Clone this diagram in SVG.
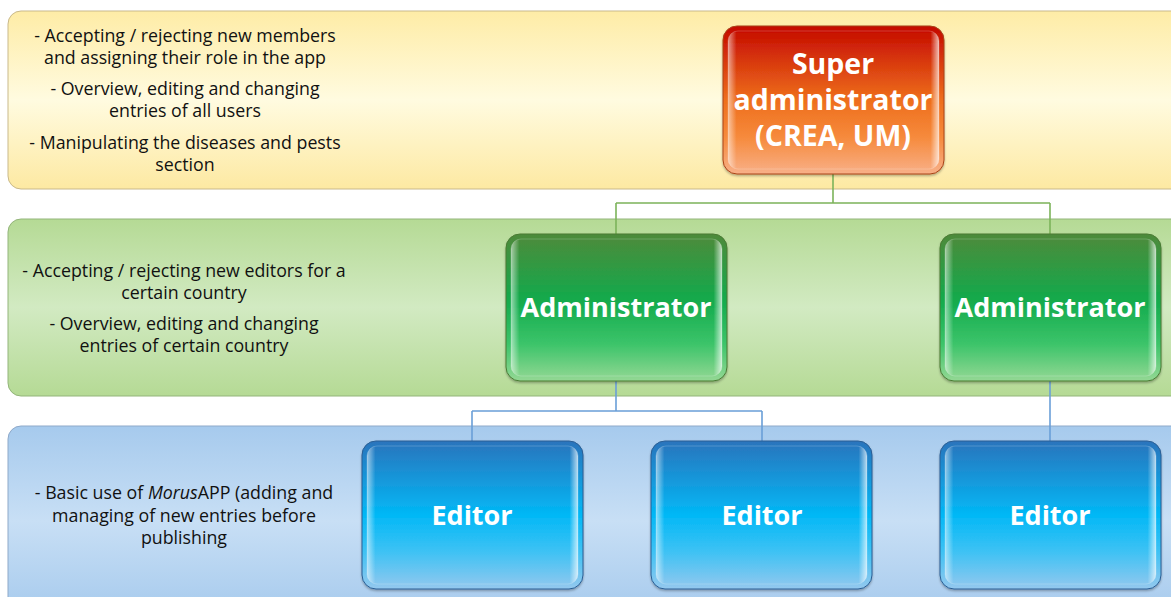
<svg xmlns="http://www.w3.org/2000/svg" width="1171" height="597" viewBox="0 0 1171 597">
  <defs>
    <!-- level bands -->
    <linearGradient id="bandYellow" x1="0" y1="0" x2="0" y2="1">
      <stop offset="0" stop-color="#feeca6"/>
      <stop offset="0.5" stop-color="#fffbe0"/>
      <stop offset="1" stop-color="#fde9a2"/>
    </linearGradient>
    <linearGradient id="bandGreen" x1="0" y1="0" x2="0" y2="1">
      <stop offset="0" stop-color="#b5da95"/>
      <stop offset="0.5" stop-color="#d2eac2"/>
      <stop offset="1" stop-color="#b5da95"/>
    </linearGradient>
    <linearGradient id="bandBlue" x1="0" y1="0" x2="0" y2="1">
      <stop offset="0" stop-color="#a6caed"/>
      <stop offset="0.5" stop-color="#c8dff5"/>
      <stop offset="1" stop-color="#a6caed"/>
    </linearGradient>
    <!-- node fills -->
    <linearGradient id="fillRed" x1="0" y1="0" x2="0" y2="1">
      <stop offset="0" stop-color="#c40800"/>
      <stop offset="0.5" stop-color="#ee6e1c"/>
      <stop offset="0.75" stop-color="#f68a3c"/>
      <stop offset="1" stop-color="#f8b088"/>
    </linearGradient>
    <linearGradient id="fillGreen" x1="0" y1="0" x2="0" y2="1">
      <stop offset="0" stop-color="#4e8a3a"/>
      <stop offset="0.45" stop-color="#12aa4c"/>
      <stop offset="0.75" stop-color="#3cc46a"/>
      <stop offset="1" stop-color="#94d894"/>
    </linearGradient>
    <linearGradient id="fillBlue" x1="0" y1="0" x2="0" y2="1">
      <stop offset="0" stop-color="#2a74bc"/>
      <stop offset="0.5" stop-color="#02b8f6"/>
      <stop offset="0.75" stop-color="#3ec2f4"/>
      <stop offset="1" stop-color="#94c8ee"/>
    </linearGradient>
    <!-- glossy side highlight -->
    <linearGradient id="gloss" x1="0" y1="0" x2="1" y2="0">
      <stop offset="0" stop-color="#ffffff" stop-opacity="0.55"/>
      <stop offset="0.04" stop-color="#ffffff" stop-opacity="0"/>
      <stop offset="0.96" stop-color="#ffffff" stop-opacity="0"/>
      <stop offset="1" stop-color="#ffffff" stop-opacity="0.7"/>
    </linearGradient>
    <filter id="shadow" x="-10%" y="-10%" width="120%" height="125%">
      <feDropShadow dx="0" dy="1.5" stdDeviation="1.2" flood-color="#000" flood-opacity="0.3"/>
    </filter>
  </defs>
  <style>
    .desc { font-family: "Open Sans", "Liberation Sans", sans-serif; font-size: 17.8px; fill: #111; text-anchor: middle; }
    .label { font-family: "Open Sans", "Liberation Sans", sans-serif; font-size: 27px; font-weight: bold; fill: #ffffff; text-anchor: middle; }
    .label-lg { font-size: 28.5px; }
    .node-red { stroke: #a84418; stroke-width: 1; }
    .node-green { stroke: #4a7a34; stroke-width: 1; }
    .node-blue { stroke: #2a5e94; stroke-width: 1; }
    .shine { fill: url(#gloss); stroke: #ffffff; stroke-opacity: 0.2; stroke-width: 1; }
    .link-green { fill: none; stroke: #7cb35a; stroke-width: 1.6; }
    .link-blue { fill: none; stroke: #6a9fd8; stroke-width: 1.6; }
  </style>

  <rect width="1171" height="597" fill="#ffffff"/>

  <!-- level bands -->
  <g id="band-super">
    <rect x="8" y="11" width="1180" height="178" rx="13" fill="url(#bandYellow)" stroke="#c9b98a" stroke-width="1"/>
    <text class="desc" x="185" y="42">- Accepting / rejecting new members</text>
    <text class="desc" x="185" y="64">and assigning their role in the app</text>
    <text class="desc" x="185" y="95">- Overview, editing and changing</text>
    <text class="desc" x="185" y="117">entries of all users</text>
    <text class="desc" x="185" y="149">- Manipulating the diseases and pests</text>
    <text class="desc" x="185" y="171">section</text>
  </g>
  <g id="band-admin">
    <rect x="8" y="219" width="1180" height="177" rx="13" fill="url(#bandGreen)" stroke="#93b57a" stroke-width="1"/>
    <text class="desc" x="184" y="277">- Accepting / rejecting new editors for a</text>
    <text class="desc" x="184" y="299">certain country</text>
    <text class="desc" x="184" y="330">- Overview, editing and changing</text>
    <text class="desc" x="184" y="352">entries of certain country</text>
  </g>
  <g id="band-editor">
    <rect x="8" y="426" width="1180" height="190" rx="13" fill="url(#bandBlue)" stroke="#8ea9c9" stroke-width="1"/>
    <text class="desc" x="184" y="499">- Basic use of <tspan font-style="italic">Morus</tspan>APP (adding and</text>
    <text class="desc" x="184" y="522">managing of new entries before</text>
    <text class="desc" x="184" y="544">publishing</text>
  </g>

  <!-- connectors -->
  <g id="connectors">
    <path class="link-green" d="M833 174 V203 M616 203 H1050 M616 203 V234 M1050 203 V234"/>
    <path class="link-blue" d="M616 381 V411 M472 411 H762 M472 411 V441 M762 411 V441"/>
    <path class="link-blue" d="M1050 381 V441"/>
  </g>

  <!-- nodes -->
  <g id="node-super">
    <rect x="723" y="26" width="221" height="148" rx="14" fill="url(#fillRed)" class="node-red" filter="url(#shadow)"/>
    <rect x="728" y="31" width="211" height="138" rx="10" class="shine"/>
    <text class="label label-lg" x="833" y="74">Super</text>
    <text class="label label-lg" x="833" y="110">administrator</text>
    <text class="label label-lg" x="833" y="146">(CREA, UM)</text>
  </g>
  <g id="node-admin-1">
    <rect x="506" y="234" width="221" height="147" rx="14" fill="url(#fillGreen)" class="node-green" filter="url(#shadow)"/>
    <rect x="511" y="239" width="211" height="137" rx="10" class="shine"/>
    <text class="label" x="616" y="317">Administrator</text>
  </g>
  <g id="node-admin-2">
    <rect x="940" y="234" width="221" height="147" rx="14" fill="url(#fillGreen)" class="node-green" filter="url(#shadow)"/>
    <rect x="945" y="239" width="211" height="137" rx="10" class="shine"/>
    <text class="label" x="1050" y="317">Administrator</text>
  </g>
  <g id="node-editor-1">
    <rect x="362" y="441" width="221" height="148" rx="14" fill="url(#fillBlue)" class="node-blue" filter="url(#shadow)"/>
    <rect x="367" y="446" width="211" height="138" rx="10" class="shine"/>
    <text class="label" x="472" y="525">Editor</text>
  </g>
  <g id="node-editor-2">
    <rect x="651" y="441" width="221" height="148" rx="14" fill="url(#fillBlue)" class="node-blue" filter="url(#shadow)"/>
    <rect x="656" y="446" width="211" height="138" rx="10" class="shine"/>
    <text class="label" x="762" y="525">Editor</text>
  </g>
  <g id="node-editor-3">
    <rect x="940" y="441" width="221" height="148" rx="14" fill="url(#fillBlue)" class="node-blue" filter="url(#shadow)"/>
    <rect x="945" y="446" width="211" height="138" rx="10" class="shine"/>
    <text class="label" x="1050" y="525">Editor</text>
  </g>
</svg>
